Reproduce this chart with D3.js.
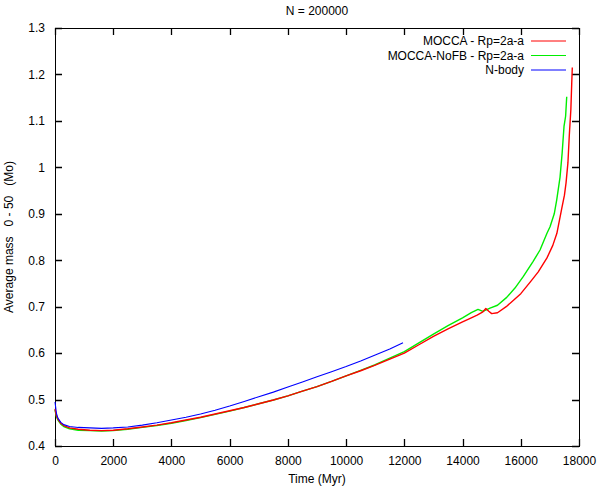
<!DOCTYPE html>
<html>
<head>
<meta charset="utf-8">
<script src="https://cdn.jsdelivr.net/npm/d3@7"></script>
<style>
  body { margin: 0; background: #fff; }
  text { font-family: "Liberation Sans", Arial, sans-serif; font-size: 12px; fill: #000; }
</style>
</head>
<body>
<div id="chart"></div>
<script>
// values
var moccaTime = [0, 50, 100, 200, 300, 500, 800, 1200, 1600, 2000, 2500, 3000, 3500, 4000, 4500, 5000,
  5500, 6000, 6500, 7000, 7500, 8000, 8500, 9000, 9500, 10000, 10500, 11000, 11500, 12000, 12500,
  13000, 13500, 14000, 14300, 14500, 14700, 14800, 14900, 15000, 15200, 15500, 15750, 16000, 16350,
  16600, 16900, 17100, 17240, 17410, 17500, 17554, 17620, 17668, 17720, 17750, 17770];
var moccaMass = [0.480, 0.465, 0.458, 0.449, 0.444, 0.439, 0.436, 0.434, 0.433, 0.434, 0.437, 0.441, 0.445,
  0.450, 0.456, 0.462, 0.469, 0.476, 0.483, 0.491, 0.499, 0.508, 0.518, 0.528, 0.539, 0.551, 0.562,
  0.574, 0.587, 0.600, 0.618, 0.636, 0.652, 0.667, 0.676, 0.682, 0.689, 0.696, 0.690, 0.685, 0.687,
  0.700, 0.714, 0.728, 0.755, 0.775, 0.805, 0.832, 0.858, 0.912, 0.940, 0.966, 1.010, 1.070, 1.124,
  1.180, 1.215];

var nofbTime = [0, 50, 100, 200, 300, 500, 800, 1200, 1600, 2000, 2500, 3000, 3500, 4000, 4500, 5000,
  5500, 6000, 6500, 7000, 7500, 8000, 8500, 9000, 9500, 10000, 10500, 11000, 11500, 12000, 12500,
  13000, 13500, 14000, 14300, 14531, 14700, 14943, 15200, 15517, 15800, 16077, 16420, 16661, 16900,
  17005, 17150, 17235, 17349, 17420, 17485, 17540, 17578];
var nofbMass = [0.478, 0.463, 0.456, 0.447, 0.442, 0.437, 0.434, 0.433, 0.432, 0.433, 0.436, 0.440, 0.444,
  0.449, 0.455, 0.461, 0.468, 0.475, 0.483, 0.491, 0.499, 0.508, 0.518, 0.528, 0.539, 0.551, 0.563,
  0.575, 0.589, 0.603, 0.622, 0.641, 0.659, 0.676, 0.687, 0.694, 0.690, 0.697, 0.703, 0.720, 0.740,
  0.764, 0.797, 0.822, 0.858, 0.872, 0.900, 0.930, 0.979, 1.030, 1.088, 1.110, 1.152];

var nbodyTime = [0, 50, 100, 200, 300, 500, 800, 1200, 1600, 2000, 2500, 3000, 3500, 4000, 4500, 5000,
  5500, 6000, 6500, 7000, 7500, 8000, 8500, 9000, 9500, 10000, 10500, 11000, 11500, 11955];
var nbodyMass = [0.495, 0.470, 0.460, 0.451, 0.446, 0.442, 0.440, 0.439, 0.438, 0.439, 0.441, 0.445, 0.450,
  0.456, 0.462, 0.469, 0.477, 0.486, 0.496, 0.506, 0.516, 0.527, 0.538, 0.549, 0.560, 0.571, 0.583,
  0.596, 0.609, 0.6225];

var xTicks = [0, 2000, 4000, 6000, 8000, 10000, 12000, 14000, 16000, 18000];
var yTicks = [0.4, 0.5, 0.6, 0.7, 0.8, 0.9, 1.0, 1.1, 1.2, 1.3];

var seriesNames = ["MOCCA - Rp=2a-a", "MOCCA-NoFB - Rp=2a-a", "N-body"];
var seriesColors = ["#ff0000", "#00ee00", "#0000ff"];

var svgWidth = 599;
var svgHeight = 491;
var margin = { top: 28, right: 20, bottom: 45, left: 55 };
var width = 524;
var height = 418;

var svg = d3.select("#chart")
  .append("svg")
  .attr("width", svgWidth)
  .attr("height", svgHeight);

var chartGroup = svg.append("g")
  .attr("transform", `translate(${margin.left}, ${margin.top})`);

var xScale = d3.scaleLinear().domain([0, 18000]).range([0, width]);
var yScale = d3.scaleLinear().domain([0.4, 1.3]).range([height, 0]);

var fmt = d3.format("~g");

// tick labels via d3 axes, with no tick lines of their own
var bottomAxis = d3.axisBottom(xScale).tickValues(xTicks).tickSize(0).tickPadding(10).tickFormat(d3.format("d"));
var leftAxis = d3.axisLeft(yScale).tickValues(yTicks).tickSize(0).tickPadding(10).tickFormat(fmt);

chartGroup.append("g").attr("transform", `translate(0, ${height})`).call(bottomAxis);
chartGroup.append("g").call(leftAxis);

chartGroup.selectAll(".domain").remove();
chartGroup.selectAll(".tick text")
  .style("font-family", "Liberation Sans, Arial, sans-serif")
  .style("font-size", "12px")
  .attr("fill", "#000");

// gnuplot style: inward ticks on all four sides
var tickLen = 7;
var tickSegs = [];
xTicks.forEach(function(t) {
  var x = Math.round(xScale(t)) + 0.5;
  tickSegs.push([x, height, x, height - tickLen]);
  tickSegs.push([x, 0, x, tickLen]);
});
yTicks.forEach(function(v) {
  var y = Math.round(yScale(v)) + 0.5;
  tickSegs.push([0, y, tickLen, y]);
  tickSegs.push([width, y, width - tickLen, y]);
});

chartGroup.append("path")
  .attr("d", tickSegs.map(s => `M${s[0]},${s[1]}L${s[2]},${s[3]}`).join(""))
  .attr("fill", "none")
  .attr("stroke", "#000")
  .attr("stroke-width", 1.3);

// frame
chartGroup.append("rect")
  .attr("x", 0.5)
  .attr("y", 0.5)
  .attr("width", width)
  .attr("height", height)
  .attr("fill", "none")
  .attr("stroke", "#000")
  .attr("stroke-width", 1)
  .attr("shape-rendering", "crispEdges");

// lines
var line = d3.line()
  .x(d => xScale(d[0]))
  .y(d => yScale(d[1]));

function pairs(ts, vs) {
  return ts.map((t, i) => [t, vs[i]]);
}

var allSeries = [
  pairs(moccaTime, moccaMass),
  pairs(nofbTime, nofbMass),
  pairs(nbodyTime, nbodyMass)
];

// draw mocca after nofb so red sits on top of green like the picture
[1, 0, 2].forEach(function(i) {
  chartGroup.append("path")
    .datum(allSeries[i])
    .attr("d", line)
    .attr("fill", "none")
    .attr("stroke", seriesColors[i])
    .attr("stroke-width", i === 2 ? 1.1 : 1.4)
    .attr("stroke-linejoin", "round");
});

// legend
var legend = svg.append("g");
seriesNames.forEach(function(name, i) {
  var y = 41 + i * 14.5;
  legend.append("text")
    .attr("x", 524)
    .attr("y", y + 4)
    .attr("text-anchor", "end")
    .text(name);
  legend.append("line")
    .attr("x1", 531)
    .attr("x2", 566)
    .attr("y1", y)
    .attr("y2", y)
    .attr("stroke", seriesColors[i])
    .attr("stroke-width", 1);
});

// title and axis labels
svg.append("text")
  .attr("x", margin.left + width / 2)
  .attr("y", 15)
  .attr("text-anchor", "middle")
  .text("N = 200000");

svg.append("text")
  .attr("x", margin.left + width / 2)
  .attr("y", 483)
  .attr("text-anchor", "middle")
  .text("Time (Myr)");

svg.append("text")
  .attr("transform", `translate(13, ${margin.top + height / 2}) rotate(-90)`)
  .attr("text-anchor", "middle")
  .attr("xml:space", "preserve")
  .style("white-space", "pre")
  .text("Average mass   0 - 50   (Mo)");
</script>
</body>
</html>
